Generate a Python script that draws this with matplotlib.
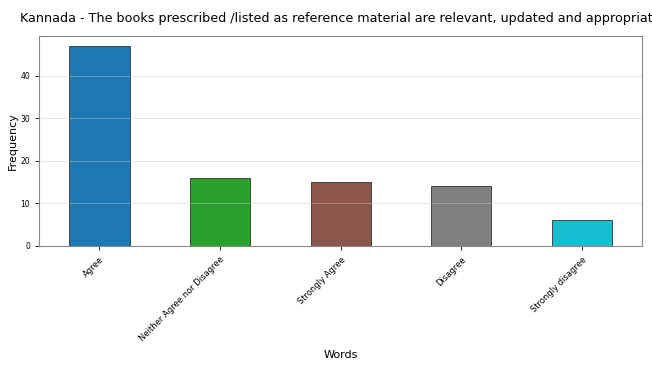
import matplotlib
matplotlib.use("Agg")
import matplotlib.pyplot as plt

# Response categories and counts
words = ["Agree", "Neither Agree nor Disagree", "Strongly Agree", "Disagree", "Strongly disagree"]
counts = [47, 16, 15, 14, 6]
colors = ["tab:blue", "tab:green", "tab:brown", "tab:gray", "tab:cyan"]

fig = plt.figure(figsize=(6.52, 3.66), dpi=100)
ax = fig.add_axes([0.06, 0.328, 0.925, 0.574])

ax.bar(range(len(words)), counts, width=0.5, color=colors, edgecolor="#333333", linewidth=0.6)
ax.set_xlim(-0.5, len(words) - 0.5)
ax.set_xticks(range(len(words)))
ax.set_xticklabels(words, rotation=45, ha="right", rotation_mode="anchor", fontsize=6)
ax.tick_params(axis="y", labelsize=5.5)
ax.tick_params(axis="both", length=3, width=0.6)
ax.set_yticks([0, 10, 20, 30, 40])

ax.grid(axis="y", color="#cccccc", alpha=0.5, linewidth=0.6)
for s in ax.spines.values():
    s.set_color("#888888")
    s.set_linewidth(0.8)

# title is wider than the figure, cut off on the right as in the original
ax.set_title("Kannada - The books prescribed /listed as reference material are relevant, updated and appropriate",
             fontsize=9.2, pad=10)
ax.set_xlabel("Words", fontsize=8, labelpad=5)
ax.set_ylabel("Frequency", fontsize=8, labelpad=2)

fig.savefig("out.png", dpi=100)
